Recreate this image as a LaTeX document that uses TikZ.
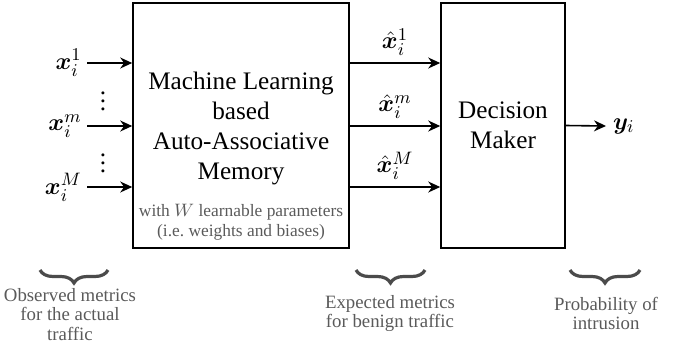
\documentclass[tikz,border=0pt]{standalone}
\usepackage{fontspec}
\setmainfont{Liberation Serif}
\usepackage{amsmath,bm}
\usetikzlibrary{arrows.meta,positioning,decorations.pathreplacing}
\definecolor{szurke}{RGB}{90,90,90}
\definecolor{kapcs}{RGB}{75,75,75}
\tikzset{
  blokk/.style={draw,line width=0.8pt,align=center,inner sep=0pt},
  nyil/.style={line width=0.8pt,-{Stealth[length=6pt,width=5.5pt]}},
  cimke/.style={font=\fontsize{12.6}{15}\selectfont},
  megj/.style={align=center,text=szurke,font=\fontsize{9.4}{9.8}\selectfont},
  kapocs/.style={draw=kapcs,line width=1.6pt,decorate,
    decoration={brace,mirror,amplitude=6.5pt}},
}
\begin{document}
\begin{tikzpicture}[x=0.5pt,y=-0.5pt]
  \useasboundingbox (0,0) rectangle (683,343);
  % blocks
  \node[blokk,minimum width=108pt,minimum height=122.5pt] (ml) at (241,125.5) {};
  \node[blokk,minimum width=62pt,minimum height=122.5pt] (dm) at (503,125.5) {};
  \node[cimke,align=center] (mltxt) at (241,128)
    {Machine Learning\\based\\Auto-Associative\\Memory};
  \node[align=center,text=szurke,font=\fontsize{8.7}{10}\selectfont] (par) at (241,222)
    {with $W$ learnable parameters\\(i.e.\ weights and biases)};
  \node[cimke,align=center] (dmtxt) at (503,125.5) {Decision\\Maker};
  % inputs
  \node[cimke,anchor=east,inner sep=2.5pt] (x1) at (87,63) {$\bm{x}_i^1$};
  \node[cimke,anchor=east,inner sep=2.5pt] (xm) at (87,126) {$\bm{x}_i^m$};
  \node[cimke,anchor=east,inner sep=2.5pt] (xM) at (87,187) {$\bm{x}_i^M$};
  \node[cimke] (d1) at (103,95) {$\vdots$};
  \node[cimke] (d2) at (103,157) {$\vdots$};
  \foreach \n in {x1,xm,xM}
    \draw[nyil] (\n.east) -- (\n.east -| ml.west);
  % expected outputs
  \node[cimke,anchor=south] (h1) at (395,63) {$\hat{\bm{x}}_i^1$};
  \node[cimke,anchor=south] (hm) at (395,126) {$\hat{\bm{x}}_i^m$};
  \node[cimke,anchor=south] (hM) at (395,187) {$\hat{\bm{x}}_i^M$};
  \foreach \n in {h1,hm,hM}
    \draw[nyil] (\n.south -| ml.east) -- (\n.south -| dm.west);
  % decision
  \node[cimke,anchor=west] (y) at (606,126) {$\bm{y}_i$};
  \draw[nyil] (dm.east) -- (y.west);
  % braces and notes
  \draw[kapocs] (40,270) -- (108,270);
  \draw[kapocs] (356,270) -- (425,270);
  \draw[kapocs] (570,270) -- (640,270);
  \node[megj] (obs) at (70,314.5) {Observed metrics\\for the actual\\traffic};
  \node[megj] (exp) at (390,313.5) {Expected metrics\\for benign traffic};
  \node[megj] (prob) at (606,313.5) {Probability of\\intrusion};
\end{tikzpicture}
\end{document}
